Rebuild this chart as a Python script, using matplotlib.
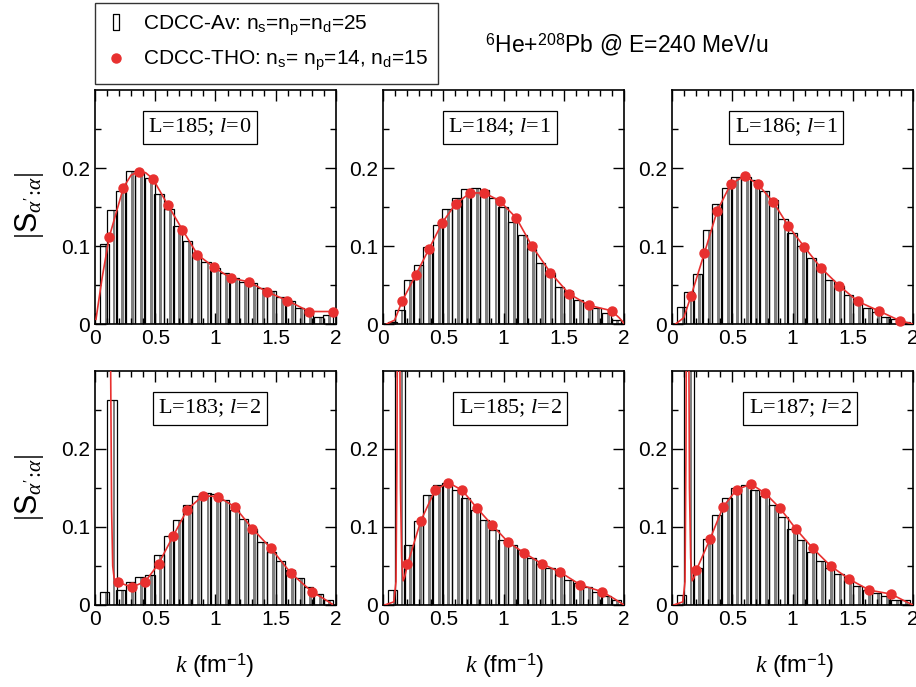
import numpy as np
import matplotlib
matplotlib.use("Agg")
import matplotlib.pyplot as plt
from matplotlib.lines import Line2D

plt.rcParams['font.family'] = ['Liberation Sans', 'DejaVu Sans']
plt.rcParams['mathtext.fontset'] = 'custom'
plt.rcParams['mathtext.rm'] = 'Liberation Serif'
plt.rcParams['mathtext.sf'] = 'Liberation Sans'
plt.rcParams['mathtext.it'] = 'Liberation Serif:italic'
plt.rcParams['mathtext.bf'] = 'Liberation Serif:bold'

# ---- data ----
# histogram bins (CDCC-Av), 25 bins
bin_lo = [0.042, 0.103, 0.175, 0.258, 0.333, 0.417, 0.492, 0.575, 0.647, 0.731,
          0.806, 0.883, 0.958, 1.036, 1.119, 1.194, 1.269, 1.347, 1.425, 1.500,
          1.583, 1.658, 1.736, 1.814, 1.894]
bin_w = 0.077

labels = ["L=185; ", "L=184; ", "L=186; ", "L=183; ", "L=185; ", "L=187; "]
lvals = ["0", "1", "1", "2", "2", "2"]

bars1 = [0.103, 0.146, 0.170, 0.196, 0.193, 0.187, 0.167, 0.148, 0.126, 0.107,
         0.088, 0.080, 0.072, 0.065, 0.059, 0.054, 0.052, 0.046, 0.042, 0.034,
         0.029, 0.020, 0.015, 0.009, 0.012]
bars2 = [0.003, 0.018, 0.056, 0.076, 0.099, 0.127, 0.148, 0.162, 0.173, 0.174,
         0.172, 0.161, 0.150, 0.131, 0.114, 0.096, 0.078, 0.065, 0.048, 0.042,
         0.031, 0.027, 0.020, 0.014, 0.005]
bars3 = [0.022, 0.041, 0.064, 0.121, 0.154, 0.175, 0.188, 0.188, 0.184, 0.170,
         0.159, 0.135, 0.117, 0.100, 0.084, 0.073, 0.057, 0.049, 0.037, 0.030,
         0.020, 0.016, 0.009, 0.006, 0.002]
bars4 = [0.017, 0.263, 0.019, 0.029, 0.036, 0.038, 0.064, 0.088, 0.109, 0.128,
         0.140, 0.143, 0.142, 0.135, 0.122, 0.110, 0.097, 0.081, 0.068, 0.056,
         0.045, 0.034, 0.023, 0.014, 0.007]
bars5 = [0.019, 0.350, 0.077, 0.108, 0.141, 0.154, 0.156, 0.148, 0.137, 0.122,
         0.109, 0.096, 0.083, 0.077, 0.071, 0.060, 0.053, 0.047, 0.038, 0.032,
         0.028, 0.023, 0.017, 0.012, 0.007]
bars6 = [0.013, 0.350, 0.048, 0.085, 0.115, 0.137, 0.150, 0.154, 0.148, 0.140,
         0.128, 0.113, 0.098, 0.083, 0.068, 0.056, 0.047, 0.040, 0.032, 0.024,
         0.019, 0.015, 0.012, 0.007, 0.006]

# CDCC-THO points
k1 = [0.119, 0.236, 0.361, 0.481, 0.603, 0.725, 0.850, 0.986, 1.125, 1.278, 1.431, 1.597, 1.778, 1.978]
s1 = [0.112, 0.175, 0.195, 0.186, 0.153, 0.121, 0.089, 0.073, 0.059, 0.054, 0.041, 0.030, 0.016, 0.016]
k2 = [0.158, 0.272, 0.381, 0.492, 0.603, 0.722, 0.842, 0.967, 1.106, 1.236, 1.389, 1.542, 1.708, 1.897]
s2 = [0.029, 0.063, 0.096, 0.130, 0.154, 0.168, 0.168, 0.158, 0.136, 0.100, 0.066, 0.039, 0.024, 0.017]
k3 = [0.158, 0.269, 0.375, 0.486, 0.603, 0.714, 0.842, 0.964, 1.097, 1.236, 1.389, 1.542, 1.714, 1.894]
s3 = [0.036, 0.091, 0.145, 0.179, 0.190, 0.179, 0.156, 0.126, 0.099, 0.072, 0.049, 0.029, 0.017, 0.004]
k4 = [0.194, 0.306, 0.417, 0.528, 0.647, 0.764, 0.894, 1.022, 1.158, 1.306, 1.458, 1.625, 1.800]
s4 = [0.029, 0.023, 0.030, 0.053, 0.088, 0.122, 0.140, 0.139, 0.126, 0.098, 0.073, 0.041, 0.017]
k5 = [0.203, 0.314, 0.431, 0.542, 0.658, 0.781, 0.903, 1.036, 1.169, 1.317, 1.472, 1.636, 1.819]
s5 = [0.052, 0.108, 0.147, 0.157, 0.147, 0.124, 0.103, 0.081, 0.067, 0.053, 0.042, 0.026, 0.017]
k6 = [0.203, 0.314, 0.425, 0.536, 0.658, 0.775, 0.897, 1.031, 1.167, 1.317, 1.472, 1.639, 1.819]
s6 = [0.045, 0.084, 0.126, 0.148, 0.155, 0.143, 0.124, 0.097, 0.073, 0.050, 0.033, 0.019, 0.014]

# continuous THO curves (extra points read where the curve bends)
lk1 = [0.008, 0.06] + k1[:2] + [0.30] + k1[2:3] + [0.42] + k1[3:] + [2.0]
ls1 = [0.006, 0.060] + s1[:2] + [0.191] + s1[2:3] + [0.194] + s1[3:] + [0.017]
lk2 = [0.03, 0.097] + k2 + [1.96, 2.0]
ls2 = [0.0, 0.005] + s2 + [0.008, 0.001]
lk3 = [0.03, 0.097] + k3 + [2.0]
ls3 = [0.0, 0.008] + s3 + [0.0]
lk4 = [0.122, 0.130, 0.138, 0.147, 0.160, 0.175] + k4 + [1.90, 1.97]
ls4 = [0.600, 0.300, 0.120, 0.050, 0.033, 0.030] + s4 + [0.008, 0.001]
lk5 = [0.014, 0.090, 0.108, 0.116, 0.122, 0.135, 0.145, 0.155, 0.167, 0.180] + k5 + [1.92, 2.0]
ls5 = [0.0, 0.004, 0.030, 0.200, 0.500, 0.500, 0.150, 0.060, 0.031, 0.036] + s5 + [0.008, 0.0]
lk6 = [0.014, 0.090, 0.108, 0.116, 0.122, 0.135, 0.145, 0.155, 0.167, 0.180] + k6 + [1.92, 2.0]
ls6 = [0.0, 0.004, 0.030, 0.200, 0.500, 0.500, 0.150, 0.060, 0.031, 0.034] + s6 + [0.006, 0.0]

panels = [(bars1, k1, s1, lk1, ls1), (bars2, k2, s2, lk2, ls2), (bars3, k3, s3, lk3, ls3),
          (bars4, k4, s4, lk4, ls4), (bars5, k5, s5, lk5, ls5), (bars6, k6, s6, lk6, ls6)]

box_x = [0.436, 0.485, 0.473, 0.477, 0.527, 0.531]

red = '#e8302f'

fig = plt.figure(figsize=(9.16, 6.87), dpi=100)

lefts = [95 / 916, 383 / 916, 672 / 916]
bottoms = [(687 - 324) / 687, (687 - 605) / 687]
w = 241 / 916
h = 234 / 687

for i, (bars, kd, sd, lk, ls) in enumerate(panels):
    ax = fig.add_axes([lefts[i % 3], bottoms[i // 3], w, h])
    lo = np.array(bin_lo)
    ax.bar(lo + 0.55 * bin_w, bars, width=0.32 * bin_w, align='edge', color='0.5', linewidth=0)
    ax.bar(lo, bars, width=bin_w, align='edge', fill=False, edgecolor='k', linewidth=0.9)
    ax.plot(lk, ls, color=red, lw=1.2, zorder=3)
    ax.plot(kd, sd, 'o', color=red, ms=6.5, zorder=4, clip_on=False)
    ax.set_xlim(0, 2)
    ax.set_ylim(0, 0.3)
    ax.set_xticks([0, 0.5, 1, 1.5, 2])
    ax.set_xticklabels(['0', '0.5', '1', '1.5', '2'])
    ax.set_xticks(np.arange(0, 2.01, 0.1), minor=True)
    ax.set_yticks([0, 0.1, 0.2])
    ax.set_yticklabels(['0', '0.1', '0.2'])
    ax.set_yticks([0.05, 0.15, 0.25], minor=True)
    ax.tick_params(which='both', direction='in', top=True, right=True, labelsize=15, width=1.0)
    ax.tick_params(which='major', length=8)
    ax.tick_params(which='minor', length=4)
    for sp in ax.spines.values():
        sp.set_linewidth(1.2)
    ax.text(box_x[i], 0.84, labels[i] + r"$\mathit{l}\!=\!\mathit{" + lvals[i] + "}$",
            transform=ax.transAxes, ha='center', va='center', fontsize=16, family='Liberation Serif',
            bbox=dict(boxstyle='square,pad=0.24', fc='white', ec='k', lw=0.9))

# axis labels
ylab = r"$|\mathsf{S}_{\alpha^{\prime}\!:\!\alpha}|$"
fig.text(30 / 916, 1 - 205 / 687, ylab, rotation=90, ha='center', va='center', fontsize=22)
fig.text(30 / 916, 1 - 487 / 687, ylab, rotation=90, ha='center', va='center', fontsize=22)
for xc in [215, 505, 795]:
    fig.text(xc / 916, 1 - 666 / 687, r"$k$ (fm$^{\mathsf{-1}}$)", ha='center', va='center', fontsize=17)

fig.text(485 / 916, 1 - 45 / 687, r"$^{\mathsf{6}}$He+$^{\mathsf{208}}$Pb @ E=240 MeV/u",
         ha='left', va='center', fontsize=16.5)

# legend
rect = [(-0.4, -1), (0.4, -1), (0.4, 1), (-0.4, 1), (-0.4, -1)]
handles = [Line2D([], [], ls='none', marker=rect, ms=12, mfc='white', mec='k', mew=0.9),
           Line2D([], [], ls='none', marker='o', ms=6.5, color=red)]
leg_labels = [r"CDCC-Av: n$_\mathsf{s}$=n$_\mathsf{p}$=n$_\mathsf{d}$=25",
              r"CDCC-THO: n$_\mathsf{s}$= n$_\mathsf{p}$=14, n$_\mathsf{d}$=15"]
leg = fig.legend(handles, leg_labels, loc='upper left', bbox_to_anchor=(95 / 916, 1 - 3 / 687),
                 fontsize=15, frameon=True, fancybox=False, edgecolor='k',
                 handlelength=1.0, handletextpad=0.8, borderpad=0.5, labelspacing=0.55,
                 borderaxespad=0)
leg.get_frame().set_linewidth(1.0)

fig.savefig('out.png', dpi=100)
